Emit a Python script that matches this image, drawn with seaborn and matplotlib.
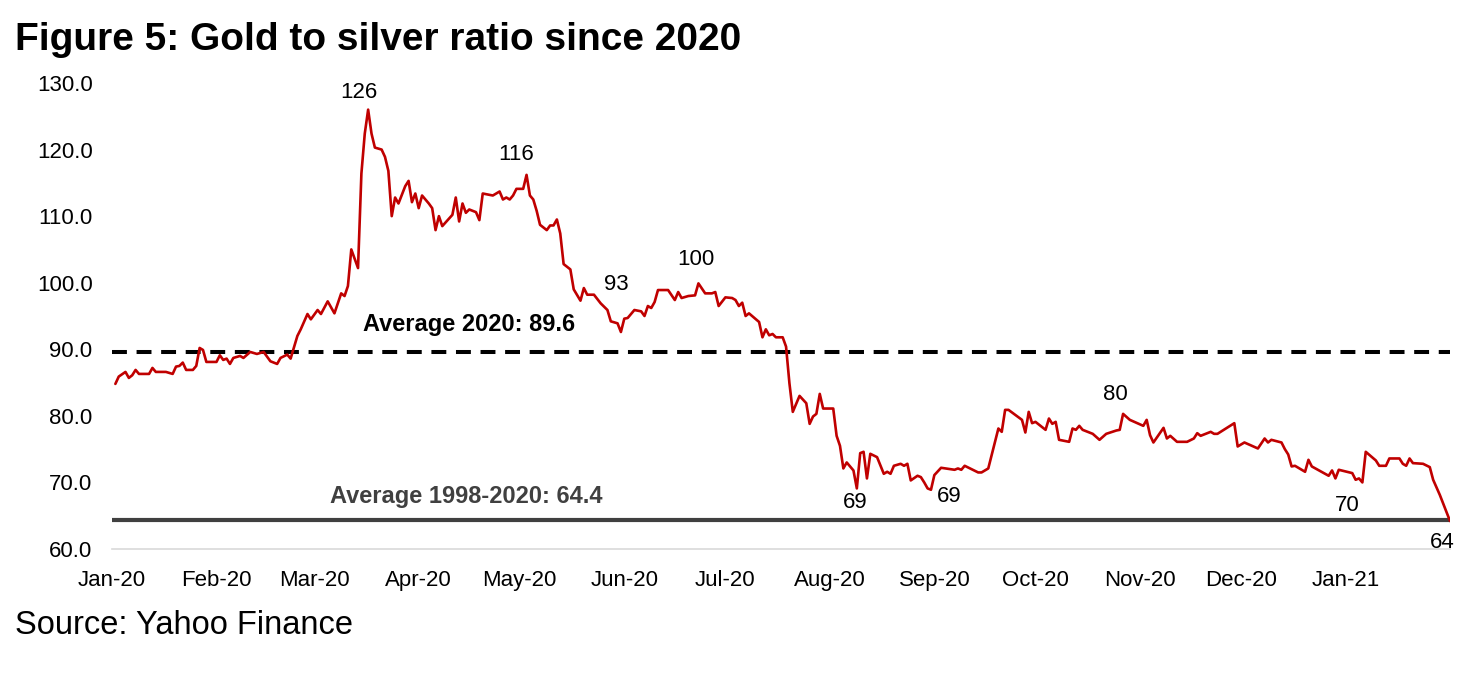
import pandas as pd
import matplotlib.pyplot as plt
import seaborn as sns

# Ratio oro/plata (dias desde 1 ene 2020)
dias = [
    1, 2, 4, 5, 6, 7, 8, 11, 12, 13, 16, 18, 19, 20, 21, 22, 24, 25, 26, 27,
    28, 31, 32, 33, 34, 35, 36, 38, 39, 41, 43, 45, 47, 49, 50, 52, 53, 55, 56, 58,
    59, 61, 62, 64, 66, 68, 69, 70, 71, 73, 74, 75, 76, 77, 78, 80, 81, 82, 83, 84,
    85, 87, 88, 89, 90, 91, 92, 94, 95, 96, 97, 98, 101, 102, 103, 104, 105, 106, 108, 109,
    110, 113, 115, 116, 117, 118, 119, 120, 122, 123, 124, 125, 126, 127, 129, 130, 131, 132, 133, 134,
    136, 137, 139, 140, 141, 143, 145, 147, 148, 150, 151, 152, 153, 155, 157, 158, 159, 160, 161, 162,
    165, 167, 168, 169, 171, 173, 174, 176, 178, 179, 180, 182, 184, 185, 186, 187, 188, 189, 192, 193,
    194, 195, 196, 197, 199, 200, 201, 202, 204, 206, 207, 208, 209, 210, 211, 214, 215, 216, 217, 218,
    220, 221, 222, 223, 224, 225, 227, 229, 230, 231, 232, 234, 235, 236, 237, 239, 240, 241, 242, 243,
    244, 246, 250, 251, 252, 253, 257, 258, 260, 263, 264, 265, 266, 270, 271, 272, 273, 274, 277, 278,
    279, 280, 281, 284, 285, 286, 287, 288, 291, 293, 295, 298, 299, 300, 302, 306, 307, 308, 309, 312,
    313, 314, 316, 319, 321, 322, 323, 326, 327, 328, 333, 334, 336, 340, 342, 343, 344, 347, 348, 349,
    350, 351, 354, 355, 356, 361, 362, 363, 364, 368, 369, 370, 371, 372, 375, 376, 378, 379, 382, 383,
    384, 385, 386, 389, 391, 392, 394, 397,
]
ratio = [
    84.8, 85.9, 86.6, 85.7, 86.1, 86.9, 86.3, 86.3, 87.2, 86.6, 86.6, 86.3, 87.4, 87.5, 88.0, 86.9, 86.9, 87.5, 90.2, 89.9,
    88.1, 88.1, 89.1, 88.4, 88.6, 87.8, 88.7, 89.0, 88.7, 89.6, 89.3, 89.6, 88.2, 87.8, 88.7, 89.2, 88.6, 92.0, 93.0, 95.3,
    94.5, 95.9, 95.3, 97.2, 95.4, 98.4, 98.0, 99.5, 105.0, 102.2, 116.4, 122.4, 126.0, 122.4, 120.3, 120.0, 118.9, 116.8, 110.0, 112.8,
    111.9, 114.5, 115.3, 112.1, 113.4, 111.2, 113.1, 111.9, 111.2, 107.9, 110.0, 108.5, 110.2, 112.8, 109.2, 111.9, 110.5, 111.0, 110.6, 109.4,
    113.4, 113.1, 113.7, 112.5, 112.8, 112.5, 113.1, 114.1, 114.1, 116.2, 113.1, 112.5, 110.8, 108.7, 107.9, 108.6, 108.6, 109.5, 107.4, 102.8,
    102.0, 99.0, 97.3, 99.2, 98.2, 98.2, 96.9, 95.9, 94.2, 93.9, 92.6, 94.6, 94.7, 95.9, 95.7, 95.0, 96.5, 96.2, 97.1, 98.9,
    98.9, 97.4, 98.6, 97.7, 98.0, 98.1, 99.9, 98.4, 98.4, 98.6, 96.5, 97.8, 97.7, 97.4, 96.5, 97.0, 95.0, 95.4, 94.1, 91.8,
    93.0, 92.1, 92.3, 91.8, 91.8, 90.4, 84.9, 80.6, 83.0, 81.9, 78.8, 79.9, 80.3, 83.3, 81.1, 81.1, 77.0, 75.5, 72.1, 73.0,
    71.8, 69.1, 74.4, 74.6, 70.6, 74.3, 73.8, 71.3, 71.6, 71.3, 72.5, 72.8, 72.5, 72.8, 70.3, 71.0, 70.8, 70.0, 69.1, 68.9,
    71.1, 72.2, 71.9, 72.1, 71.9, 72.5, 71.5, 71.5, 72.1, 78.1, 77.6, 80.9, 80.9, 79.4, 77.5, 80.6, 78.9, 79.1, 77.9, 79.6,
    78.8, 79.1, 76.4, 76.1, 78.1, 77.9, 78.5, 77.9, 77.3, 76.4, 77.3, 77.8, 77.9, 80.3, 79.4, 78.5, 79.4, 77.1, 76.0, 78.2,
    76.6, 77.0, 76.1, 76.1, 76.6, 77.4, 77.0, 77.6, 77.3, 77.3, 78.9, 75.4, 76.0, 75.1, 76.6, 76.0, 76.4, 76.0, 75.0, 74.2,
    72.4, 72.5, 71.6, 73.4, 72.4, 71.0, 71.8, 70.6, 71.9, 71.4, 70.4, 70.6, 70.0, 74.6, 73.3, 72.5, 72.5, 73.6, 73.6, 72.8,
    72.5, 73.6, 72.9, 72.8, 72.3, 70.4, 68.1, 64.2,
]

media_2020 = 89.6
media_historica = 64.4

meses = ["2020-01-01", "2020-02-01", "2020-03-01", "2020-04-01", "2020-05-01", "2020-06-01",
         "2020-07-01", "2020-08-01", "2020-09-01", "2020-10-01", "2020-11-01", "2020-12-01",
         "2021-01-01"]
etiquetas_meses = ["Jan-20", "Feb-20", "Mar-20", "Apr-20", "May-20", "Jun-20", "Jul-20",
                   "Aug-20", "Sep-20", "Oct-20", "Nov-20", "Dec-20", "Jan-21"]

# etiquetas de puntos: (dia, texto, desplazamiento x, y en pixeles)
etiquetas = [
    (76, "126", -9, 17),
    (123, "116", -10, 20),
    (151, "93", -5, 47),
    (174, "100", -3, 24),
    (221, "69", -2, -14),
    (243, "69", 18, -7),
    (300, "80", -8, 19),
    (371, "70", -15, -23),
    (397, "64", -8, -21),
]

sns.set_theme(style="white")
plt.rcParams['font.family'] = ['Liberation Sans', 'DejaVu Sans']
plt.rcParams['text.color'] = 'black'
plt.rcParams['xtick.color'] = 'black'
plt.rcParams['ytick.color'] = 'black'

inicio = pd.Timestamp("2020-01-01")
df = pd.DataFrame({"fecha": inicio + pd.to_timedelta(dias, unit="D"), "ratio": ratio})

fig = plt.figure(figsize=(14.84, 6.77), dpi=100)
ax = fig.add_axes([112 / 1484, 1 - 549 / 677, (1450 - 112) / 1484, (549 - 83) / 677])

ax.axhline(media_historica, color="#404040", lw=3.0, zorder=2)
ax.axhline(media_2020, color="black", lw=2.9, dashes=(3.7, 2.4), zorder=2)
sns.lineplot(data=df, x="fecha", y="ratio", ax=ax, color="#C00000", lw=1.9, zorder=3)

ax.set_xlim(inicio, df["fecha"].iloc[-1])
ax.set_ylim(60, 130)
ax.set_yticks(range(60, 131, 10))
ax.set_yticklabels([f"{v:.1f}" for v in range(60, 131, 10)])
ax.set_xticks(pd.to_datetime(meses))
ax.set_xticklabels(etiquetas_meses)
ax.tick_params(axis="both", length=0, labelsize=16, colors="black")
ax.tick_params(axis="y", pad=14)
ax.tick_params(axis="x", pad=15)
ax.set_xlabel("")
ax.set_ylabel("")
for lado in ["left", "right", "top"]:
    ax.spines[lado].set_visible(False)
ax.spines["bottom"].set_color("#D9D9D9")
ax.spines["bottom"].set_linewidth(1.2)

serie = dict(zip(dias, ratio))
for dia, texto, dx, dy in etiquetas:
    ax.annotate(texto, (inicio + pd.Timedelta(days=dia), serie[dia]), xytext=(dx, dy),
                textcoords="offset pixels", ha="center", va="center", fontsize=16, color="black")

ax.annotate(f"Average 2020: {media_2020}", (inicio + pd.Timedelta(days=106), media_2020), xytext=(0, 27),
            textcoords="offset pixels", ha="center", va="center", fontsize=17, fontweight="bold",
            color="black")
ax.annotate(f"Average 1998-2020: {media_historica}", (inicio + pd.Timedelta(days=105), media_historica),
            xytext=(0, 23), textcoords="offset pixels", ha="center", va="center",
            fontsize=17, fontweight="bold", color="#404040")

fig.text(15 / 1484, 1 - 50 / 677, "Figure 5: Gold to silver ratio since 2020", fontsize=28,
         fontweight="bold", ha="left", va="baseline", color="black")
fig.text(15 / 1484, 1 - 634 / 677, "Source: Yahoo Finance", fontsize=23.5, ha="left", va="baseline",
         color="black")

fig.savefig("out.png", dpi=100)
